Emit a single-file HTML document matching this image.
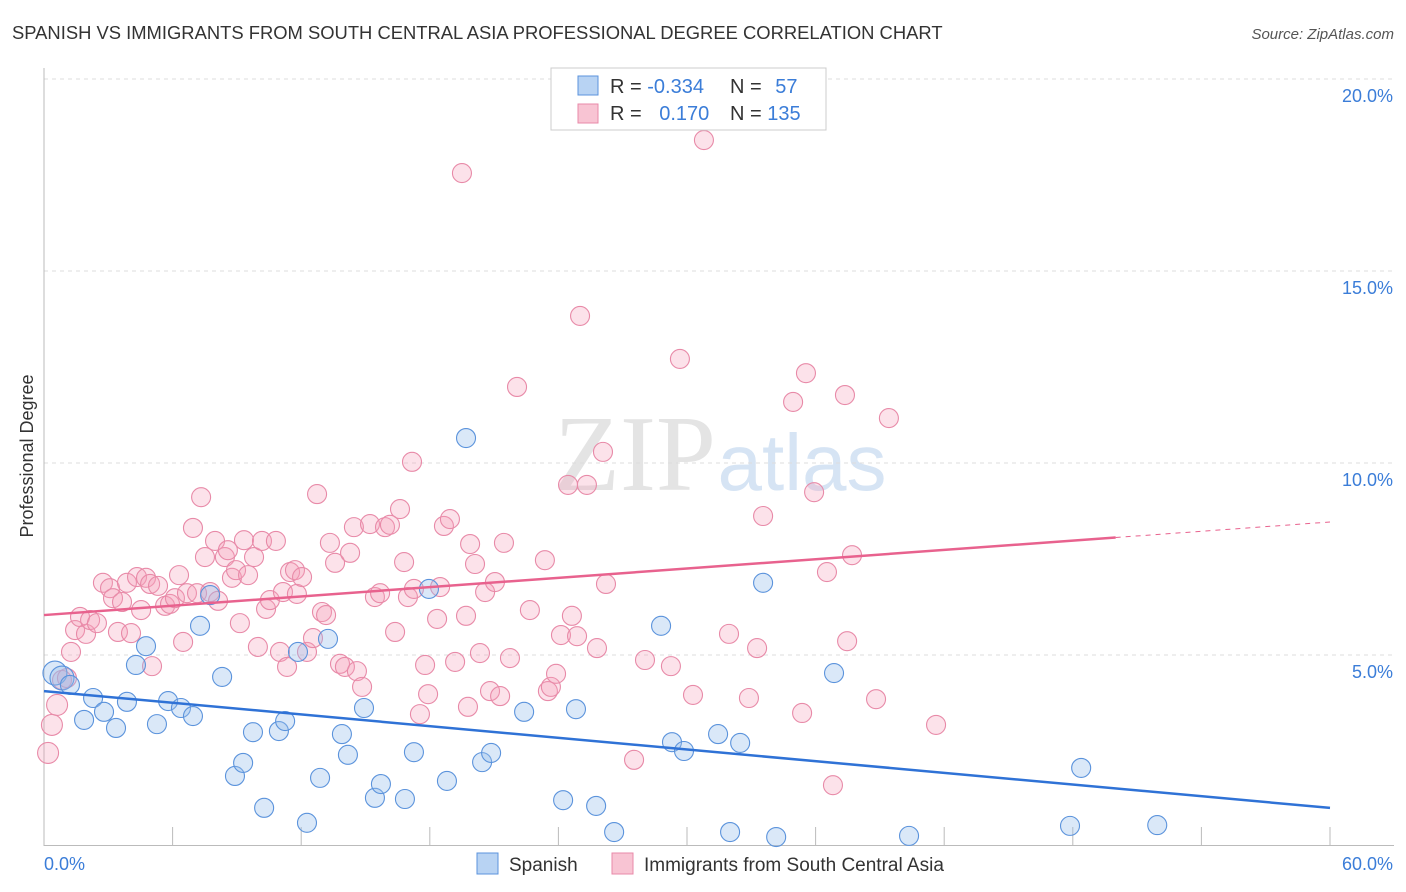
<!DOCTYPE html>
<html><head><meta charset="utf-8"><style>
body{margin:0;background:#fff;font-family:"Liberation Sans",sans-serif;}
#wrap{position:relative;width:1406px;height:892px;overflow:hidden;}
</style></head><body>
<div id="wrap">
<svg id="svg" width="1406" height="892" xmlns="http://www.w3.org/2000/svg">
<text x="12" y="39" font-size="18.4" fill="#333">SPANISH VS IMMIGRANTS FROM SOUTH CENTRAL ASIA PROFESSIONAL DEGREE CORRELATION CHART</text>
<text x="1394" y="39" font-size="15" fill="#555" font-style="italic" text-anchor="end">Source: ZipAtlas.com</text>
<text x="33" y="456" font-size="18" fill="#333" text-anchor="middle" transform="rotate(-90 33 456)">Professional Degree</text>
<g><text x="635" y="490" font-size="108" fill="#e4e4e4" font-family="Liberation Serif,serif" text-anchor="middle">ZIP</text><text x="802" y="490" font-size="80" fill="#d6e4f4" text-anchor="middle">atlas</text></g>
<g id="grid"></g><g id="axes"></g><g id="marks"></g><g id="lines"></g>
<g>
<rect x="551" y="68" width="275" height="62" fill="#fff" stroke="#ccc"/>
<rect x="578" y="76" width="20" height="19" fill="#b8d3f3" stroke="#5b93dc"/>
<rect x="578" y="104" width="20" height="19" fill="#f8c4d3" stroke="#e88aa8"/>
<text x="610" y="93" font-size="20" fill="#333">R = <tspan fill="#3b7dd8">-0.334</tspan></text>
<text x="730" y="93" font-size="20" fill="#333">N = <tspan fill="#3b7dd8" dx="8">57</tspan></text>
<text x="610" y="120" font-size="20" fill="#333">R = <tspan fill="#3b7dd8" dx="12">0.170</tspan></text>
<text x="730" y="120" font-size="20" fill="#333">N = <tspan fill="#3b7dd8">135</tspan></text>
</g>
<g>
<rect x="477" y="853" width="21" height="21" fill="#b8d3f3" stroke="#5b93dc"/>
<text x="509" y="871" font-size="19" fill="#333">Spanish</text>
<rect x="612" y="853" width="21" height="21" fill="#f8c4d3" stroke="#e88aa8"/>
<text x="644" y="871" font-size="19" fill="#333">Immigrants from South Central Asia</text>
</g>
</svg></div>
<script>
const yTicks=[5,10,15,20];
const yTickLabels=["5.0%","10.0%","15.0%","20.0%"];
const blueX=[0.51,0.84,1.21,2.29,1.87,2.80,3.36,3.87,4.76,4.29,5.27,5.79,6.39,6.95,7.28,7.75,8.31,8.91,9.29,9.75,10.27,10.96,11.25,11.85,12.27,12.88,13.25,13.90,14.18,14.93,15.44,15.72,16.84,17.26,17.96,18.80,19.69,20.44,20.86,22.40,24.22,24.82,25.76,26.60,28.79,29.30,29.86,31.45,32.01,32.48,33.55,34.16,36.86,40.36,47.87,48.39,51.94];
const blueY=[4.53,4.40,4.22,3.88,3.31,3.52,3.10,3.78,5.23,4.74,3.20,3.80,3.62,3.41,5.76,6.56,4.43,1.85,2.19,2.99,1.02,3.02,3.28,5.08,0.63,1.80,5.42,2.94,2.40,3.62,1.28,1.64,1.25,2.47,6.72,1.72,10.65,2.21,2.45,3.52,1.22,3.59,1.07,0.39,5.76,2.73,2.50,2.94,0.39,2.71,6.88,0.26,4.53,0.29,0.55,2.06,0.57];
const pinkX=[0.19,0.37,0.61,0.84,1.07,1.26,1.45,1.68,1.96,2.15,2.47,2.75,3.08,3.22,3.45,3.64,3.87,4.06,4.34,4.53,4.76,4.95,5.32,5.04,5.65,5.88,6.11,6.30,6.49,6.67,6.95,7.14,7.33,7.51,7.75,7.98,8.12,8.44,8.58,8.77,8.96,9.14,9.33,9.52,9.80,9.98,10.17,10.36,10.54,10.82,11.01,11.15,11.34,11.48,11.71,11.80,12.04,12.27,12.55,12.74,12.97,13.16,13.34,13.58,13.81,14.04,14.28,14.46,14.60,14.84,15.21,15.44,15.68,15.91,16.14,16.38,16.61,16.80,16.98,17.17,17.26,17.54,17.78,17.92,18.34,18.48,18.66,18.94,19.18,19.50,19.69,19.78,19.88,20.11,20.34,20.58,20.81,21.04,21.28,21.46,21.74,22.07,22.67,23.37,23.51,23.65,23.89,24.12,24.45,24.63,24.87,25.01,25.33,25.80,26.08,26.22,27.53,28.04,29.25,29.67,30.28,30.79,31.96,32.89,33.27,33.55,34.95,35.37,35.55,35.93,36.53,36.81,37.37,37.47,37.70,38.82,39.42,41.62];
const pinkY=[2.45,3.18,3.70,4.35,4.40,5.08,5.65,5.99,5.55,5.91,5.83,6.88,6.74,6.48,5.60,6.38,6.88,5.57,7.03,6.17,7.01,6.85,6.80,4.71,6.28,6.33,6.48,7.08,5.34,6.61,8.31,6.61,9.11,7.55,6.64,7.97,6.41,7.55,7.73,7.01,7.21,5.83,7.99,7.08,7.55,5.21,7.97,6.20,6.43,7.97,5.08,6.64,4.69,7.16,7.21,6.59,7.03,5.08,5.44,9.19,6.12,6.04,7.92,7.40,4.77,4.69,7.66,8.33,4.58,4.17,8.41,6.51,6.61,8.33,8.39,5.60,8.80,7.42,6.51,10.03,6.72,3.46,4.74,3.98,5.94,6.77,8.36,8.54,4.82,17.55,6.02,3.65,7.89,7.37,5.05,6.64,4.06,6.90,3.93,7.92,4.92,11.98,6.17,7.47,4.06,4.17,4.51,5.52,9.43,6.02,5.49,13.83,9.43,5.18,10.29,6.85,2.27,4.87,4.71,12.71,3.96,18.41,5.55,3.88,5.18,8.62,11.59,3.49,12.34,9.24,7.16,1.61,11.77,5.36,7.60,3.85,11.17,3.18];
const blueTrend=[4.06,-0.0507];
const pinkTrend=[6.04,0.0404];
const NS="http://www.w3.org/2000/svg";
const X=v=>44+v*1286/60, Y=v=>847-v*38.4;
function mk(tag,attrs,parent){const e=document.createElementNS(NS,tag);for(const k in attrs)e.setAttribute(k,attrs[k]);parent.appendChild(e);return e;}
const grid=document.getElementById('grid'),axes=document.getElementById('axes'),marks=document.getElementById('marks'),lines=document.getElementById('lines');
yTicks.forEach((t,i)=>{
 const l=mk('line',{x1:44,x2:1394,y1:Y(t),y2:Y(t),stroke:'#ddd','stroke-dasharray':'4 4'},grid);
 
 
 const tx=mk('text',{x:1393,y:Y(t)+23,'font-size':18,fill:'#3b7dd8','text-anchor':'end'},axes);
 tx.textContent=yTickLabels[i];
 
 
});
let a=mk('line',{x1:44,x2:44,y1:68,y2:846,stroke:'#bbb'},axes);


a=mk('line',{x1:44,x2:1394,y1:845.5,y2:845.5,stroke:'#bbb'},axes);


for(let v=6;v<=60;v+=6){const t=mk('line',{x1:X(v),x2:X(v),y1:827,y2:845,stroke:'#bbb'},axes);
 
 }
let t0=mk('text',{x:44,y:870,'font-size':18,fill:'#3b7dd8'},axes);t0.textContent='0.0%';


t0=mk('text',{x:1393,y:870,'font-size':18,fill:'#3b7dd8','text-anchor':'end'},axes);t0.textContent='60.0%';


function dots(xs,ys,fill,stroke,name){xs.forEach((x,i)=>{
 const c=mk('circle',{cx:X(x),cy:Y(ys[i]),r:i<2&&name==='spanish-point'?12:(name!=='spanish-point'&&i<3?10.5:9.5),fill:fill,stroke:stroke,'stroke-width':1.1},marks);
 
 });}
dots(pinkX,pinkY,'rgba(244,160,185,0.3)','#e88aa8','immigrant-point');
dots(blueX,blueY,'rgba(150,190,235,0.35)','#5b93dc','spanish-point');
let ln=mk('line',{x1:X(0),y1:Y(pinkTrend[0]),x2:X(50),y2:Y(pinkTrend[0]+50*pinkTrend[1]),stroke:'#e8628e','stroke-width':2.5},lines);


ln=mk('line',{x1:X(50),y1:Y(pinkTrend[0]+50*pinkTrend[1]),x2:X(60),y2:Y(pinkTrend[0]+60*pinkTrend[1]),stroke:'#e8628e','stroke-width':1,'stroke-dasharray':'5 5'},lines);


ln=mk('line',{x1:X(0),y1:Y(blueTrend[0]),x2:X(60),y2:Y(blueTrend[0]+60*blueTrend[1]),stroke:'#2f72d6','stroke-width':2.5},lines);


</script>
</body></html>
